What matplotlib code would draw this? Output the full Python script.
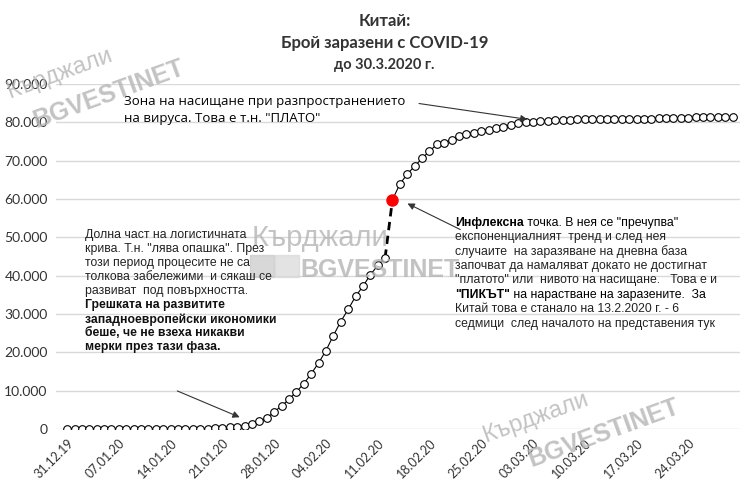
import matplotlib
matplotlib.use("Agg")
import matplotlib.pyplot as plt
import matplotlib.patches as mpatches
import datetime as dt

start = dt.date(2019, 12, 31)
cases = [27, 27, 27, 41, 41, 41, 41, 41, 41, 41, 41, 41, 41, 41, 41, 41, 41, 41, 45, 62, 198,
         291, 440, 571, 830, 1287, 1975, 2744, 4515, 5974, 7711, 9692, 11791, 14380, 17205,
         20438, 24324, 28018, 31161, 34546, 37198, 40171, 42638, 44653, 59804, 63851, 66492,
         68500, 70548, 72436, 74185, 74576, 75465, 76288, 76936, 77150, 77658, 78064, 78497,
         78824, 79251, 79824, 80026, 80151, 80270, 80409, 80552, 80651, 80695, 80735, 80754,
         80778, 80793, 80813, 80824, 80844, 80860, 80881, 80894, 80928, 80967, 81008, 81054,
         81093, 81171, 81218, 81285, 81340, 81394, 81439, 81470]
dates = [start + dt.timedelta(days=i) for i in range(len(cases))]
tick_idx = list(range(0, 85, 7))
tick_labels = [dates[i].strftime("%d.%m.%y") for i in tick_idx]
yticks = list(range(0, 90001, 10000))
ylabels = ["0" if v == 0 else f"{v//1000}.000" for v in yticks]
infl = 44  # 13.02.2020

plt.rcParams['font.family'] = ['Liberation Sans', 'DejaVu Sans']
fig = plt.figure(figsize=(7.5, 4.91), dpi=100)
ax = fig.add_axes([0.0747, 0.1263, 0.912, 0.703])
x = list(range(len(cases)))
mk = dict(color='black', lw=0.8, marker='o', ms=5.5, mfc='white', mec='black', mew=0.8, zorder=3)
ax.plot(x[:infl], cases[:infl], **mk)
ax.plot(x[infl:], cases[infl:], **mk)
ax.plot(x[infl-1:infl+1], cases[infl-1:infl+1], color='black', lw=2, ls=(0, (3, 2)), zorder=2)
ax.plot([x[infl]], [cases[infl]], 'o', color='#ff0000', ms=8, zorder=4)
ax.set_xlim(-1.5, 91)
ax.set_ylim(0, 90000)
ax.set_yticks(yticks)
ax.set_yticklabels(ylabels, fontfamily='Lato', fontsize=10, color='#333333')
ax.set_xticks(tick_idx)
ax.set_xticklabels(tick_labels, rotation=45, ha='right', rotation_mode='anchor',
                   fontfamily='Lato', fontsize=9, color='#333333')
ax.grid(axis='y', color='#d9d9d9', lw=1)
ax.set_axisbelow(True)
for s in ax.spines.values():
    s.set_visible(False)
ax.tick_params(length=0, pad=6)

# title
for y, t, fs in [(0.958, "Китай:", 12), (0.912, "Брой заразени с COVID-19", 12), (0.868, "до 30.3.2020 г.", 10.5)]:
    fig.text(0.513, y, t, ha='center', va='center', fontsize=fs, fontweight='bold',
             fontfamily='Lato', color='#333333')

# watermarks
wc = '#b4b4b4'
fig.text(0.335, 0.50, "Кърджали", fontsize=21, color=wc, alpha=0.8, zorder=0)
fig.text(0.40, 0.435, "BGVESTINET", fontsize=18, color=wc, fontweight='bold', alpha=0.8, zorder=0)
fig.patches.append(mpatches.Rectangle((0.333, 0.435), 0.032, 0.045, transform=fig.transFigure, color='#c8c8c8', alpha=0.7))
fig.patches.append(mpatches.Rectangle((0.367, 0.435), 0.032, 0.045, transform=fig.transFigure, color='#d8d8d8', alpha=0.7))
fig.text(0.005, 0.80, "Кърджали", fontsize=17, color=wc, rotation=20, alpha=0.8, zorder=0)
fig.text(0.04, 0.74, "BGVESTINET", fontsize=18, color=wc, rotation=20, fontweight='bold', alpha=0.8, zorder=0)
fig.text(0.64, 0.10, "Кърджали", fontsize=17, color=wc, rotation=20, alpha=0.8, zorder=0)
fig.text(0.70, 0.05, "BGVESTINET", fontsize=18, color=wc, rotation=20, fontweight='bold', alpha=0.8, zorder=0)

# plateau annotation
fig.text(0.165, 0.776, "Зона на насищане при разпространението\nна вируса. Това е т.н. \"ПЛАТО\"",
         fontsize=9.5, va='center', fontfamily='Open Sans', linespacing=1.45)
ax.annotate("", xy=(0.707, 0.756), xycoords='figure fraction', xytext=(0.555, 0.79),
            textcoords='figure fraction', arrowprops=dict(arrowstyle='-|>', color='#333333', lw=0.8))

# left annotation
left_lines = ["Долна част на логистичната", "крива. Т.н. \"лява опашка\". През",
              "този период процесите не са", "толкова забележими  и сякаш се",
              "развиват  под повърхността."]
for i, l in enumerate(left_lines):
    fig.text(0.113, 0.521 - i * 0.0285, l, fontsize=8.8, va='center', color='#222222')
bold_lines = ["Грешката на развитите", "западноевропейски икономики",
              "беше, че не взеха никакви", "мерки през тази фаза."]
for i, l in enumerate(bold_lines):
    fig.text(0.113, 0.378 - i * 0.0285, l, fontsize=8.8, va='center', fontweight='bold', color='#111111')
ax.annotate("", xy=(0.323, 0.148), xycoords='figure fraction', xytext=(0.233, 0.206),
            textcoords='figure fraction', arrowprops=dict(arrowstyle='-|>', color='#333333', lw=0.8))

# right annotation
dy = 0.0293
y0 = 0.546
t1 = fig.text(0.607, y0, "Инфлексна", fontsize=8.8, fontweight='bold', va='center')
ax.annotate(" точка. В нея се \"пречупва\"", xy=(1, 0.5), xycoords=t1, va='center', fontsize=8.8)
lines = ["експоненциалният  тренд и след нея",
         "случаите  на заразяване на дневна база",
         "започват да намаляват докато не достигнат",
         "\"платото\" или  нивото на насищане.   Това е и"]
for i, l in enumerate(lines):
    fig.text(0.607, y0 - (i + 1) * dy, l, fontsize=8.8, va='center', color='#222222')
t2 = fig.text(0.607, y0 - 5 * dy, "\"ПИКЪТ\"", fontsize=8.8, fontweight='bold', va='center')
ax.annotate(" на нарастване на заразените.  За", xy=(1, 0.5), xycoords=t2, va='center', fontsize=8.8)
fig.text(0.607, y0 - 6 * dy, "Китай това е станало на 13.2.2020 г. - 6", fontsize=8.8, va='center', color='#222222')
fig.text(0.607, y0 - 7 * dy, "седмици  след началото на представения тук", fontsize=8.8, va='center', color='#222222')
ax.annotate("", xy=(0.540, 0.588), xycoords='figure fraction', xytext=(0.617, 0.530),
            textcoords='figure fraction', arrowprops=dict(arrowstyle='-|>', color='#333333', lw=0.8))

fig.savefig("out.png", dpi=100)
